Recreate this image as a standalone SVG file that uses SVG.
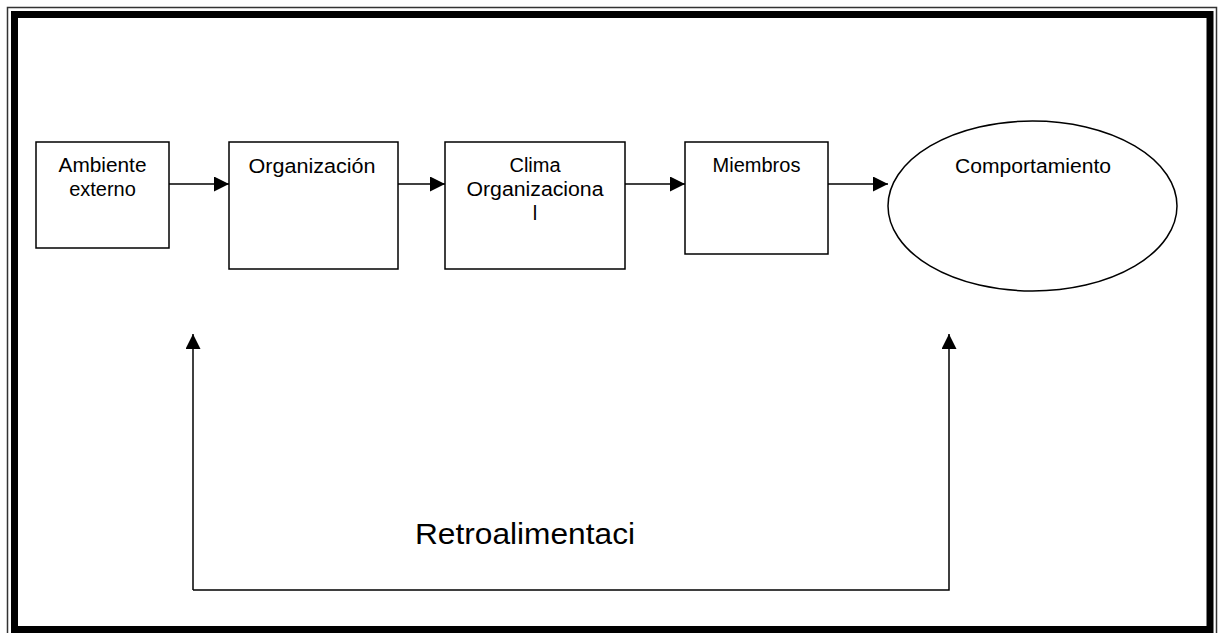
<svg xmlns="http://www.w3.org/2000/svg" width="1222" height="633" viewBox="0 0 1222 633">
<style>
.node{fill:#fff;stroke:#000;stroke-width:1.5}
.lbl{font-family:"Liberation Sans",Arial,sans-serif;font-size:20px;fill:#000;text-anchor:middle}
.big{font-family:"Liberation Sans",Arial,sans-serif;font-size:30px;fill:#000}
.conn{fill:none;stroke:#000;stroke-width:1.5}
</style>
<defs>
<marker id="ah" markerWidth="16" markerHeight="15" refX="15" refY="7.5" orient="auto" markerUnits="userSpaceOnUse">
<path d="M0,0 L15,7.5 L0,15 Z" fill="#000"/>
</marker>
</defs>
<rect x="0" y="0" width="1222" height="633" fill="#fff"/>
<g id="frame">
<rect x="7.5" y="7.5" width="1209" height="640" fill="none" stroke="#333" stroke-width="1.5"/>
<rect x="14.5" y="14.5" width="1195.5" height="615" fill="none" stroke="#000" stroke-width="7"/>
</g>
<g id="ambiente">
<rect class="node" x="36" y="142" width="133" height="106"/>
<text class="lbl" x="102.5" y="172" textLength="88" lengthAdjust="spacingAndGlyphs">Ambiente</text>
<text class="lbl" x="102.5" y="196">externo</text>
</g>
<g id="organizacion">
<rect class="node" x="229" y="142" width="169" height="127"/>
<text class="lbl" x="312" y="173" textLength="127" lengthAdjust="spacingAndGlyphs">Organización</text>
</g>
<g id="clima">
<rect class="node" x="445" y="142" width="180" height="127"/>
<text class="lbl" x="535" y="172">Clima</text>
<text class="lbl" x="535" y="196" textLength="137" lengthAdjust="spacingAndGlyphs">Organizaciona</text>
<text class="lbl" x="535" y="220">l</text>
</g>
<g id="miembros">
<rect class="node" x="685" y="142" width="143" height="112"/>
<text class="lbl" x="756.5" y="172">Miembros</text>
</g>
<g id="comportamiento">
<ellipse class="node" cx="1032.5" cy="206" rx="144.5" ry="85"/>
<text class="lbl" x="1033" y="173" textLength="156" lengthAdjust="spacingAndGlyphs">Comportamiento</text>
</g>
<g id="connectors">
<line class="conn" x1="169" y1="184" x2="229" y2="184" marker-end="url(#ah)"/>
<line class="conn" x1="398" y1="184" x2="445" y2="184" marker-end="url(#ah)"/>
<line class="conn" x1="625" y1="184" x2="685" y2="184" marker-end="url(#ah)"/>
<line class="conn" x1="828" y1="184" x2="888" y2="184" marker-end="url(#ah)"/>
<path class="conn" d="M193,590 L193,334" marker-end="url(#ah)"/>
<path class="conn" d="M193,590 L949,590 L949,334" marker-end="url(#ah)"/>
</g>
<text class="big" x="415" y="544" textLength="220" lengthAdjust="spacingAndGlyphs">Retroalimentaci</text>
</svg>
